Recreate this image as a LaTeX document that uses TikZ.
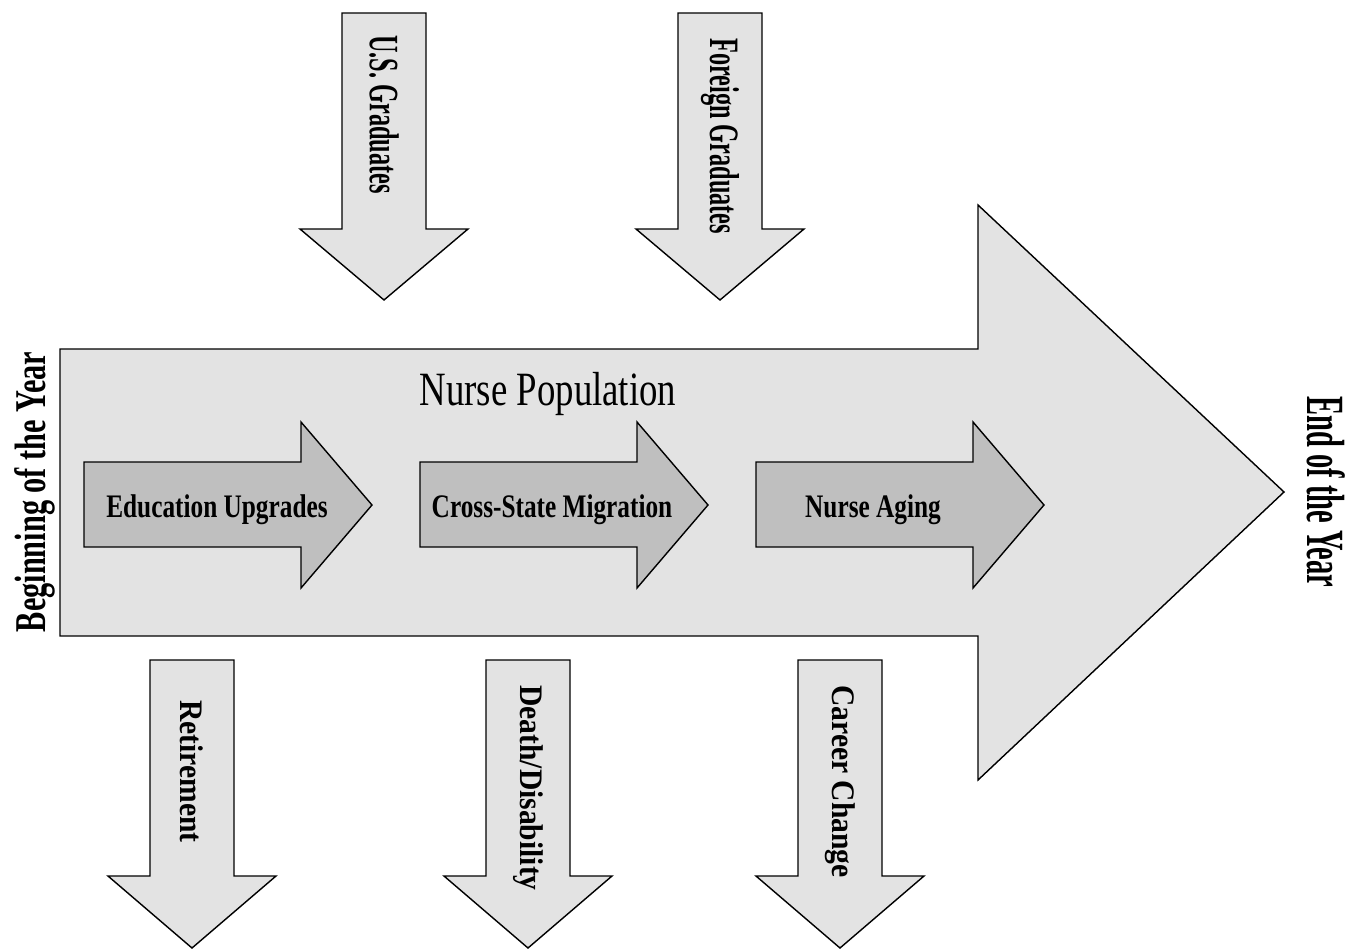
\documentclass[tikz,border=0pt]{standalone}
\usepackage{fontspec}
\setmainfont{Liberation Serif}
\newfontfamily\popfont[FakeStretch=0.77]{Liberation Serif}
\newfontfamily\infont[FakeStretch=0.58]{Liberation Serif}
\newfontfamily\outfont[FakeStretch=0.9]{Liberation Serif}
\newfontfamily\startfont[FakeStretch=0.69]{Liberation Serif}
\newfontfamily\stopfont[FakeStretch=0.53]{Liberation Serif}
\usepackage{tikz}

\begin{document}
\begin{tikzpicture}[x = .02cm, y = -.02cm,
	popbox/.style = {draw = black, line width = .8pt, fill = gray!22},
	stagebox/.style = {draw = black, line width = .8pt, fill = gray!50},
	every node/.style = {inner sep = 0pt}]
	\useasboundingbox (0,0) rectangle (1365,950);
	% the year
	\draw[popbox] (60,349) -- (978,349) -- (978,205) -- (1284,492) -- (978,780) -- (978,636) -- (60,636) -- cycle;
	\node[font = \popfont\fontsize{27.2}{30}\selectfont, anchor = base] (pop) at (548,405) {Nurse Population};
	\node[font = \startfont\bfseries\fontsize{25}{28}\selectfont, rotate = 90] (yearstart) at (35,492) {Beginning of the Year};
	\node[font = \stopfont\bfseries\fontsize{30.6}{33}\selectfont, rotate = -90] (yearstop) at (1326,492) {End of the Year};
	% changes inside the year
	\foreach \x/\tx/\lbl in {84/217/Education Upgrades, 420/552/Cross-State Migration, 756/873/Nurse Aging}{
		\draw[stagebox] (\x,462) -- (\x+217,462) -- (\x+217,422) -- (\x+288,505) -- (\x+217,588) -- (\x+217,547) -- (\x,547) -- cycle;
		\node[font = \popfont\bfseries\fontsize{18.7}{21}\selectfont, anchor = base] (stage\x) at (\tx,517) {\lbl};
	}
	% inflows
	\foreach \cx/\ty/\lbl in {384/35/U.S. Graduates, 720/38/Foreign Graduates}{
		\draw[popbox] (\cx-42,13) -- (\cx+42,13) -- (\cx+42,229) -- (\cx+84,229) -- (\cx,300) -- (\cx-84,229) -- (\cx-42,229) -- cycle;
		\node[font = \infont\bfseries\fontsize{23.8}{26}\selectfont, rotate = -90, anchor = west] (in\cx) at (\cx,\ty) {\lbl};
	}
	% outflows
	\foreach \cx/\ty/\lbl in {192/700/Retirement, 528/685/{Death/Disability}, 840/685/Career Change}{
		\draw[popbox] (\cx-42,660) -- (\cx+42,660) -- (\cx+42,876) -- (\cx+84,876) -- (\cx,948) -- (\cx-84,876) -- (\cx-42,876) -- cycle;
		\node[font = \outfont\bfseries\fontsize{18.7}{21}\selectfont, rotate = -90, anchor = west] (out\cx) at (\cx,\ty) {\lbl};
	}
\end{tikzpicture}
\end{document}
